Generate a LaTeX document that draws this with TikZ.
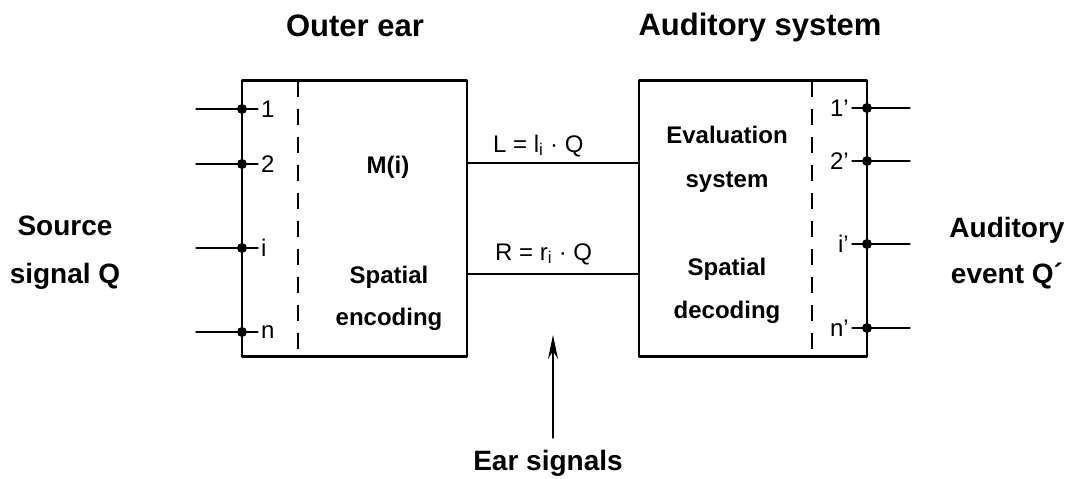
\documentclass[tikz,border=0pt]{standalone}
\usepackage{fontspec}
\setmainfont{Liberation Sans}
\usetikzlibrary{arrows.meta}
\begin{document}
\begin{tikzpicture}[x=1pt,y=-1pt,line join=round,line cap=round,
	blk/.style={draw,line width=2.8pt,minimum height=276pt,inner sep=0pt},
	sep/.style={line width=1.7pt,line cap=butt,dash pattern=on 16pt off 12pt},
	wire/.style={line width=1.3pt},
	title/.style={font=\fontsize{31}{36}\selectfont\bfseries,anchor=base,inner sep=0pt},
	side/.style={font=\fontsize{28}{32}\selectfont\bfseries,anchor=base,inner sep=0pt},
	inbox/.style={font=\fontsize{24}{28}\selectfont\bfseries,anchor=base,inner sep=0pt},
	thin/.style={font=\fontsize{24}{28}\selectfont,inner sep=0pt}]
	\useasboundingbox (0,0) rectangle (1071,479);
	% the two blocks
	\node[blk,minimum width=225pt] (outer) at (354.5,218.5) {};
	\node[blk,minimum width=228pt] (audsys) at (753,218.5) {};
	\draw[sep] (298,80.5)--(298,356.5);
	\draw[sep] (812,80.5)--(812,356.5);
	% headings
	\node[title] (outerT) at (355,36) {Outer ear};
	\node[title] (audsysT) at (760,35) {Auditory system};
	\node[side] (src1) at (65,235) {Source};
	\node[side] (src2) at (65,283) {signal Q};
	\node[side] (evt1) at (1007,237) {Auditory};
	\node[side] (evt2) at (1007,283) {event Q´};
	% text in the blocks
	\node[inbox] (mi) at (388,173) {M(i)};
	\node[inbox] (enc1) at (389,283) {Spatial};
	\node[inbox] (enc2) at (389,325) {encoding};
	\node[inbox] (eval1) at (727,143) {Evaluation};
	\node[inbox] (eval2) at (727,187) {system};
	\node[inbox] (dec1) at (727,275) {Spatial};
	\node[inbox] (dec2) at (727,318) {decoding};
	% inputs and outputs
	\foreach \y/\t in {109/1,164/2,248/i,332/n}{
		\draw[wire] (196,\y)--(258,\y);
		\fill (242,\y) circle (5pt);
		\node[thin,anchor=west] at (261,\y) {\t};
	}
	\foreach \y/\t in {108/1,161/2,244/i,328/n}{
		\draw[wire] (852,\y)--(910,\y);
		\fill (867,\y) circle (5pt);
		\node[thin,anchor=east] at (849,\y) {\t'};
	}
	% ear signals
	\coordinate (lOut) at (outer.east |- 0,163);
	\coordinate (rOut) at (outer.east |- 0,274);
	\draw[line width=1.8pt] (lOut)--(lOut -| audsys.west);
	\draw[line width=1.8pt] (rOut)--(rOut -| audsys.west);
	\node[thin,anchor=base west] (lsig) at (493,152) {L = l\textsubscript{i} · Q};
	\node[thin,anchor=base west] (rsig) at (495,260) {R = r\textsubscript{i} · Q};
	\node[side] (ears) at (548,470) {Ear signals};
	\coordinate (tip) at (553,335);
	\draw[line width=1.3pt,-{Stealth[length=24pt,width=10pt]}] (553,438)--(tip);
\end{tikzpicture}
\end{document}
